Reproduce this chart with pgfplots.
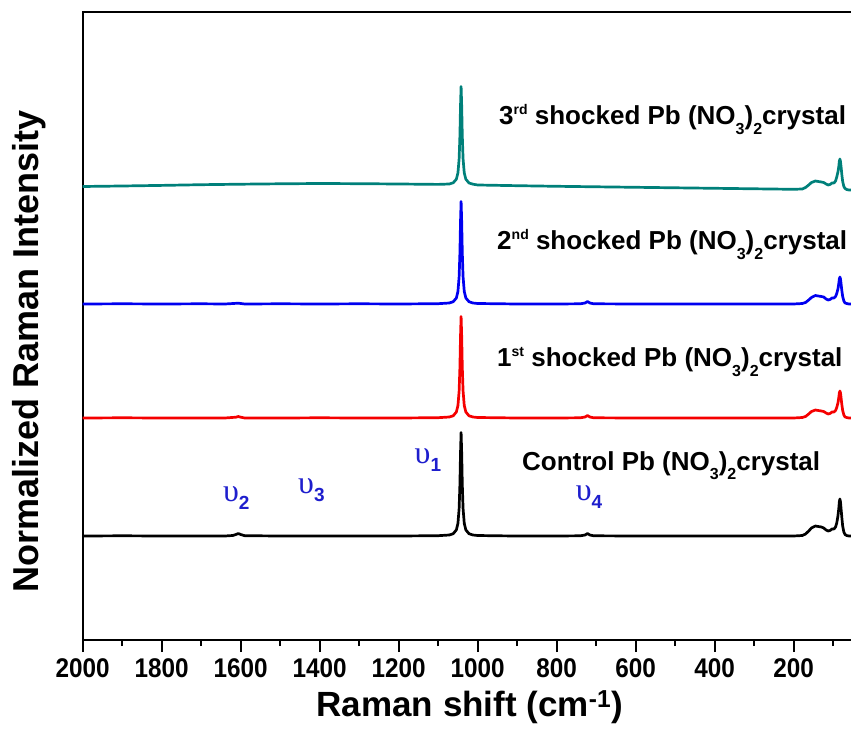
\documentclass[border=0pt]{standalone}
\usepackage{pgfplots}
\pgfplotsset{compat=1.18}
\usepackage{fontspec}
\setmainfont{Liberation Sans}
\newfontfamily\greekfont{Liberation Serif}
\definecolor{cteal}{RGB}{0,128,122}
\definecolor{cblue}{RGB}{0,0,240}
\definecolor{cred}{RGB}{245,0,0}
\definecolor{nublue}{RGB}{30,30,205}
\newcommand{\sups}[1]{\raisebox{0.42em}{\fontsize{14}{14}\selectfont #1}}
\newcommand{\subs}[1]{\raisebox{-0.38em}{\fontsize{16}{16}\selectfont #1}}
\newcommand{\lab}[1]{{\fontsize{26}{26}\selectfont\bfseries #1}}
\newcommand{\modelabel}[1]{{\color{nublue}{\greekfont\fontsize{32}{32}\selectfont υ}\raisebox{-8pt}{\fontsize{19}{19}\selectfont\bfseries #1}}}
\begin{document}
\begin{tikzpicture}
\begin{axis}[
 scale only axis, width=790pt, height=628pt,
 xmin=0, xmax=2000, x dir=reverse, ymin=0, ymax=628,
 xtick={200,400,...,2000}, minor xtick={100,300,...,1900},
 xtick pos=left, tick align=outside,
 major tick length=12pt, minor tick length=6pt,
 ytick=\empty,
 axis line style={line width=2pt},
 every tick/.style={line width=2pt, black},
 xticklabel={\scalebox{0.9}[1]{\pgfmathprintnumber{\tick}}},
 xticklabel style={font=\fontsize{27}{27}\selectfont\bfseries, yshift=-3pt},
 /pgf/number format/assume math mode=true,
 /pgf/number format/1000 sep={},
 xlabel={Raman shift (cm\textsuperscript{-1})},
 xlabel style={font=\fontsize{35}{35}\selectfont\bfseries, at={(axis description cs:0.49,-0.1226)}, anchor=base},
 ylabel={Normalized Raman Intensity},
 ylabel style={font=\fontsize{36}{36}\selectfont\bfseries, at={(axis description cs:-0.068,0.459)}, anchor=center},
 every axis plot/.append style={line width=2.7pt, line join=round, no markers},
]
\addplot[black] coordinates {
(2000,104) (1900,104.2) (1800,104) (1700,104.1) (1640,104) (1620,104.5) (1612,105.5) (1606,106.5) (1600,105.5) (1590,104.3)
(1500,104) (1400,104.1) (1300,104) (1200,104) (1100,104.3) (1072,105) (1062,106.3) (1054,110.1) (1050,116.7) (1047,131.4)
(1045,155.8) (1043.5,186.8) (1042,207.5) (1040.5,186.8) (1039,155.8) (1037,131.4) (1034,116.7) (1030,110.1) (1022,106.3)
(1012,105) (1000,104.5) (950,104.2) (900,104) (800,104) (740,104.2) (728,105) (722,106.5) (716,105) (706,104.2) (600,104)
(500,104) (400,104) (300,104) (200,104) (178,104.5) (170,106) (162,109) (155,112) (145,114) (138,113.5) (130,113) (124,112)
(118,110) (113,109) (108,109.5) (103,111) (98,111) (94,113) (91,117) (88,124) (86,131) (84.5,138) (83,141) (81.5,138) (80,131)
(78,122) (76,114) (73,108) (70,105.5) (66,104.5) (60,104) (40,104)};
\addplot[cred] coordinates {
(2000,222) (1900,222.2) (1800,222) (1700,222) (1640,222) (1612,222.8) (1606,223.5) (1600,222.8) (1590,222) (1500,222)
(1400,222.2) (1300,222) (1200,222) (1100,222.3) (1072,223) (1062,224.2) (1054,228) (1050,234.5) (1047,248.9) (1045,272.8)
(1043.5,303.2) (1042,323.5) (1040.5,303.2) (1039,272.8) (1037,248.9) (1034,234.5) (1030,228) (1022,224.2) (1012,223) (1000,222.5)
(900,222) (800,222) (740,222.2) (728,223) (722,224.5) (716,223) (706,222.2) (600,222) (400,222) (200,222) (178,222.5) (170,223.5)
(162,226) (155,228.5) (145,230) (138,229.5) (130,229) (124,228.5) (118,227) (113,226) (108,226.5) (103,228) (98,228) (94,229.5)
(91,232.5) (88,237) (86,242) (84.5,247) (83,249) (81.5,247) (80,242) (78,235) (76,229.5) (73,225) (70,223) (66,222.5) (60,222) (40,222)};
\addplot[cblue] coordinates {
(2000,336) (1900,336.2) (1800,336) (1700,336.2) (1640,336) (1606,336.8) (1590,336) (1500,336.2) (1400,336) (1300,336.2) (1200,336)
(1100,336.3) (1072,337) (1062,338.3) (1054,342) (1050,348.6) (1047,363.2) (1045,387.3) (1043.5,418) (1042,438.5) (1040.5,418)
(1039,387.3) (1037,363.2) (1034,348.6) (1030,342) (1022,338.3) (1012,337) (1000,336.5) (900,336) (800,336) (740,336.2) (728,337)
(722,338.5) (716,337) (706,336.2) (600,336) (400,336) (200,336) (178,336.5) (170,337.5) (162,340) (155,342.5) (145,344.5) (138,344)
(130,343.5) (124,343) (118,341) (113,340) (108,340.5) (103,342) (98,342) (94,343.5) (91,346.5) (88,351) (86,356) (84.5,361) (83,363)
(81.5,361) (80,356) (78,349) (76,343.5) (73,339) (70,337) (66,336.5) (60,336) (40,336)};
\addplot[cteal] coordinates {
(2000,453.5) (1900,454) (1800,454.6) (1700,455.3) (1600,455.8) (1500,456.2) (1400,456.5) (1300,456.3) (1200,456) (1100,455.6)
(1072,456) (1062,457.2) (1054,460.8) (1050,467.1) (1047,481.1) (1045,504.3) (1043.5,533.8) (1042,553.5) (1040.5,533.8) (1039,504.3)
(1037,481.1) (1034,467.1) (1030,460.8) (1022,457) (1012,455.8) (1000,455) (900,454.3) (800,453.7) (700,453.2) (600,452.7) (500,452.2)
(400,451.7) (300,451.2) (200,450.7) (178,451) (170,452.5) (162,455) (155,457.5) (145,459) (138,458.5) (130,458) (124,457.5) (118,456)
(113,455) (108,455.5) (103,457) (98,457) (94,459) (91,463) (88,468) (86,473) (84.5,478.5) (83,481) (81.5,478.5) (80,473) (78,465)
(76,458.5) (73,453.5) (70,451.5) (66,450.5) (60,450) (40,450)};
\node[anchor=base west, inner sep=0] at (axis cs:946,515) {\lab{3\sups{rd} shocked Pb (NO\subs{3})\subs{2}crystal}};
\node[anchor=base west, inner sep=0] at (axis cs:951,390) {\lab{2\sups{nd} shocked Pb (NO\subs{3})\subs{2}crystal}};
\node[anchor=base west, inner sep=0] at (axis cs:951,273) {\lab{1\sups{st} shocked Pb (NO\subs{3})\subs{2}crystal}};
\node[anchor=base west, inner sep=0] at (axis cs:888,170) {\lab{Control Pb (NO\subs{3})\subs{2}crystal}};
\node[anchor=base west, inner sep=0] at (axis cs:1645,139) {\modelabel{2}};
\node[anchor=base west, inner sep=0] at (axis cs:1455,147) {\modelabel{3}};
\node[anchor=base west, inner sep=0] at (axis cs:1160,177) {\modelabel{1}};
\node[anchor=base west, inner sep=0] at (axis cs:752,140) {\modelabel{4}};
\end{axis}
\pgfresetboundingbox
\useasboundingbox (-82.7pt,-96pt) rectangle (768.3pt,640pt);
\end{tikzpicture}
\end{document}
